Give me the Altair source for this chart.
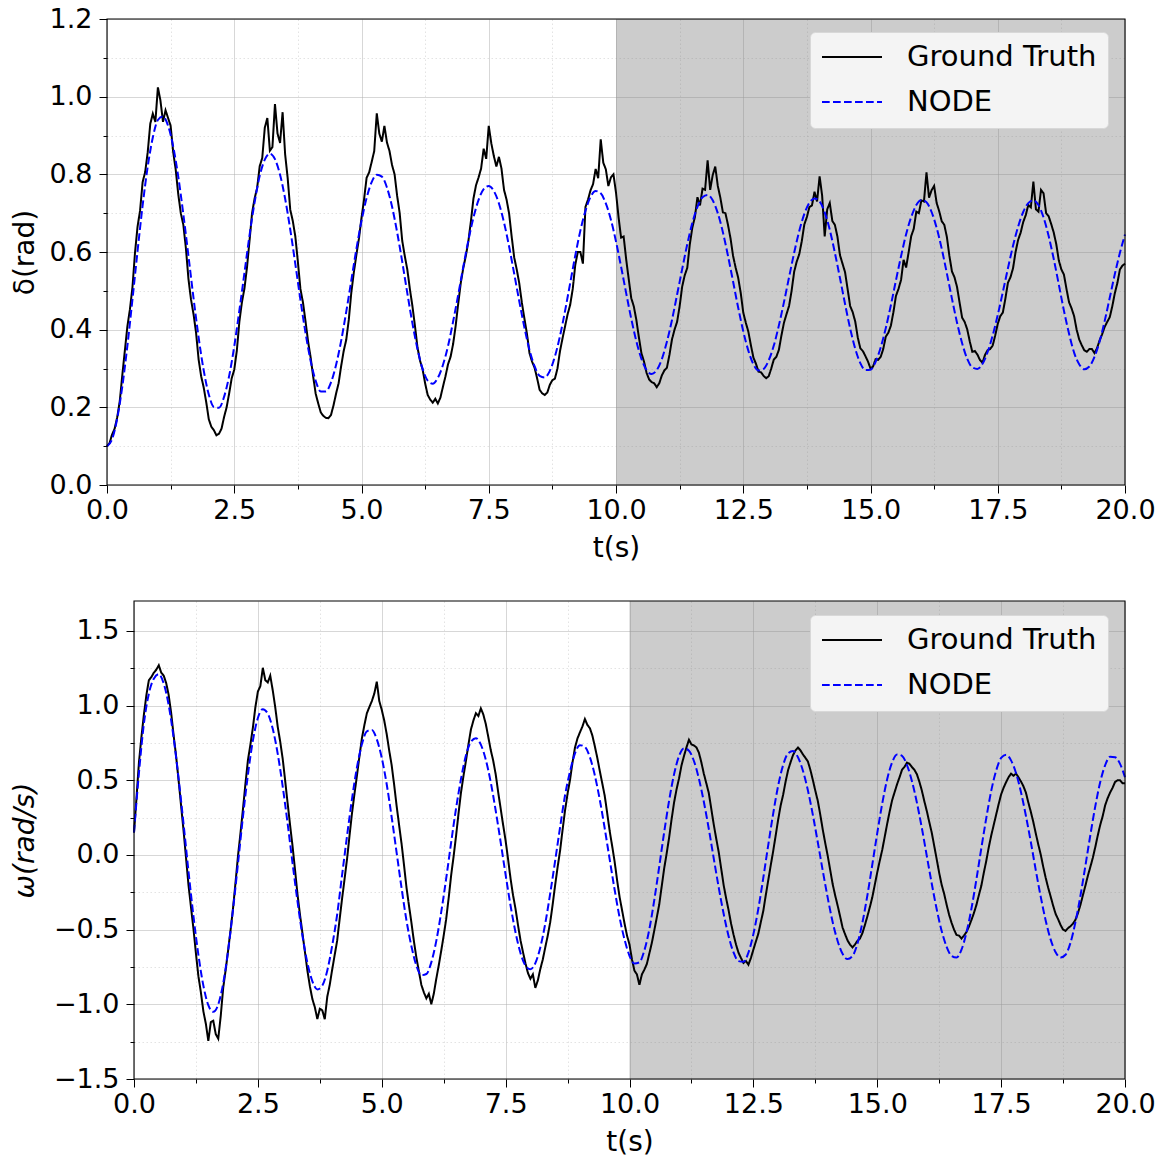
import altair as alt
import pandas as pd

# sample times (s)
t = [i / 10 for i in range(201)]
t_mid = [i / 10 + 0.05 for i in range(200)]

series_names = ["Ground Truth", "NODE"]

# ---- top panel: rotor angle delta (rad) ----
delta_gt = [
    0.100, 0.130, 0.174, 0.282, 0.408, 0.509, 0.665, 0.780, 0.857, 0.956,
    1.024, 0.935, 0.945, 0.858, 0.749, 0.670, 0.531, 0.440, 0.323, 0.251,
    0.169, 0.141, 0.132, 0.175, 0.236, 0.297, 0.420, 0.506, 0.629, 0.738,
    0.821, 0.920, 0.861, 0.981, 0.881, 0.851, 0.709, 0.640, 0.505, 0.422,
    0.329, 0.235, 0.187, 0.173, 0.180, 0.235, 0.306, 0.374, 0.496, 0.593,
    0.688, 0.791, 0.832, 0.957, 0.884, 0.882, 0.824, 0.745, 0.629, 0.555,
    0.461, 0.354, 0.298, 0.232, 0.212, 0.210, 0.253, 0.311, 0.363, 0.467,
    0.559, 0.628, 0.738, 0.792, 0.866, 0.925, 0.847, 0.845, 0.760, 0.699,
    0.586, 0.519, 0.429, 0.340, 0.302, 0.245, 0.232, 0.258, 0.274, 0.345,
    0.409, 0.464, 0.567, 0.600, 0.716, 0.759, 0.814, 0.890, 0.813, 0.792,
    0.753, 0.637, 0.581, 0.481, 0.425, 0.339, 0.289, 0.265, 0.252, 0.282,
    0.302, 0.375, 0.420, 0.511, 0.559, 0.663, 0.741, 0.763, 0.836, 0.798,
    0.770, 0.702, 0.670, 0.590, 0.534, 0.444, 0.395, 0.328, 0.292, 0.281,
    0.280, 0.323, 0.348, 0.418, 0.461, 0.549, 0.594, 0.671, 0.716, 0.755,
    0.795, 0.640, 0.726, 0.670, 0.592, 0.548, 0.461, 0.421, 0.352, 0.332,
    0.300, 0.324, 0.330, 0.382, 0.410, 0.487, 0.528, 0.560, 0.641, 0.704,
    0.733, 0.805, 0.759, 0.726, 0.679, 0.639, 0.550, 0.510, 0.431, 0.401,
    0.343, 0.336, 0.315, 0.347, 0.359, 0.415, 0.444, 0.521, 0.558, 0.631,
    0.677, 0.721, 0.781, 0.704, 0.751, 0.692, 0.650, 0.578, 0.542, 0.471,
    0.435, 0.375, 0.347, 0.350, 0.340, 0.372, 0.407, 0.432, 0.494, 0.555,
    0.570,
]
delta_gt_mid = [
    0.108, 0.145, 0.215, 0.345, 0.452, 0.598, 0.707, 0.806, 0.930, 0.935,
    0.990, 0.965, 0.925, 0.812, 0.700, 0.610, 0.478, 0.392, 0.280, 0.213,
    0.150, 0.128, 0.145, 0.200, 0.275, 0.345, 0.470, 0.560, 0.700, 0.765,
    0.842, 0.945, 0.870, 0.905, 0.960, 0.790, 0.680, 0.575, 0.470, 0.370,
    0.280, 0.210, 0.178, 0.172, 0.205, 0.262, 0.345, 0.425, 0.548, 0.635,
    0.735, 0.805, 0.860, 0.905, 0.925, 0.860, 0.800, 0.700, 0.590, 0.505,
    0.410, 0.320, 0.262, 0.220, 0.222, 0.225, 0.280, 0.330, 0.410, 0.520,
    0.590, 0.680, 0.772, 0.815, 0.840, 0.880, 0.820, 0.815, 0.735, 0.640,
    0.555, 0.470, 0.390, 0.318, 0.275, 0.236, 0.238, 0.270, 0.300, 0.378,
    0.440, 0.505, 0.600, 0.570, 0.735, 0.775, 0.790, 0.830, 0.770, 0.800,
    0.690, 0.640, 0.530, 0.460, 0.380, 0.318, 0.272, 0.262, 0.262, 0.295,
    0.335, 0.400, 0.460, 0.540, 0.620, 0.690, 0.720, 0.760, 0.760, 0.820,
    0.740, 0.700, 0.635, 0.560, 0.495, 0.418, 0.360, 0.312, 0.290, 0.275,
    0.300, 0.330, 0.385, 0.440, 0.500, 0.575, 0.628, 0.690, 0.720, 0.730,
    0.745, 0.710, 0.680, 0.640, 0.570, 0.505, 0.445, 0.380, 0.345, 0.318,
    0.305, 0.322, 0.350, 0.392, 0.445, 0.505, 0.580, 0.600, 0.660, 0.700,
    0.730, 0.740, 0.770, 0.705, 0.670, 0.590, 0.535, 0.470, 0.420, 0.370,
    0.345, 0.322, 0.335, 0.350, 0.385, 0.435, 0.480, 0.535, 0.600, 0.650,
    0.695, 0.715, 0.710, 0.760, 0.700, 0.672, 0.620, 0.555, 0.505, 0.455,
    0.400, 0.360, 0.343, 0.350, 0.352, 0.388, 0.420, 0.460, 0.520, 0.565,
]
delta_node = [
    0.100, 0.118, 0.171, 0.253, 0.358, 0.478, 0.602, 0.720, 0.820, 0.895,
    0.940, 0.949, 0.925, 0.872, 0.794, 0.697, 0.590, 0.481, 0.380, 0.295,
    0.233, 0.201, 0.199, 0.227, 0.281, 0.357, 0.449, 0.546, 0.643, 0.728,
    0.796, 0.838, 0.853, 0.839, 0.799, 0.737, 0.658, 0.569, 0.477, 0.392,
    0.320, 0.268, 0.241, 0.241, 0.264, 0.309, 0.371, 0.446, 0.527, 0.608,
    0.680, 0.739, 0.780, 0.799, 0.794, 0.766, 0.717, 0.651, 0.575, 0.494,
    0.417, 0.350, 0.299, 0.269, 0.261, 0.276, 0.309, 0.358, 0.421, 0.490,
    0.562, 0.630, 0.689, 0.734, 0.762, 0.770, 0.757, 0.725, 0.676, 0.614,
    0.544, 0.473, 0.406, 0.348, 0.306, 0.281, 0.277, 0.294, 0.331, 0.384,
    0.449, 0.520, 0.591, 0.655, 0.706, 0.742, 0.757, 0.751, 0.725, 0.683,
    0.627, 0.562, 0.494, 0.428, 0.370, 0.325, 0.296, 0.286, 0.296, 0.324,
    0.369, 0.425, 0.490, 0.556, 0.620, 0.675, 0.716, 0.741, 0.747, 0.733,
    0.700, 0.651, 0.590, 0.524, 0.457, 0.396, 0.346, 0.311, 0.295, 0.299,
    0.321, 0.359, 0.411, 0.471, 0.535, 0.598, 0.654, 0.698, 0.727, 0.738,
    0.730, 0.702, 0.657, 0.598, 0.533, 0.466, 0.403, 0.351, 0.314, 0.296,
    0.297, 0.317, 0.354, 0.404, 0.463, 0.527, 0.589, 0.646, 0.690, 0.721,
    0.734, 0.728, 0.703, 0.662, 0.608, 0.545, 0.480, 0.418, 0.365, 0.325,
    0.303, 0.299, 0.312, 0.342, 0.385, 0.438, 0.497, 0.558, 0.616, 0.665,
    0.703, 0.726, 0.733, 0.721, 0.689, 0.641, 0.582, 0.516, 0.449, 0.390,
    0.341, 0.311, 0.298, 0.305, 0.330, 0.369, 0.422, 0.482, 0.543, 0.598,
    0.645,
]

# ---- bottom panel: speed deviation omega (rad/s) ----
omega_gt = [
    0.150, 0.620, 0.940, 1.170, 1.220, 1.270, 1.200, 1.070, 0.800, 0.500,
    0.164, -0.202, -0.494, -0.812, -1.047, -1.245, -1.110, -1.230, -0.890, -0.637,
    -0.353, -0.003, 0.309, 0.636, 0.854, 1.094, 1.253, 1.155, 1.102, 0.859,
    0.646, 0.347, 0.058, -0.265, -0.525, -0.775, -0.965, -1.099, -1.040, -0.950,
    -0.767, -0.574, -0.291, -0.026, 0.281, 0.533, 0.782, 0.949, 1.030, 1.160,
    0.972, 0.809, 0.601, 0.329, 0.075, -0.220, -0.456, -0.689, -0.871, -0.960,
    -0.999, -0.830, -0.642, -0.430, -0.138, 0.128, 0.420, 0.632, 0.840, 0.949,
    0.981, 0.876, 0.702, 0.539, 0.310, 0.095, -0.160, -0.361, -0.571, -0.725,
    -0.829, -0.890, -0.764, -0.619, -0.450, -0.200, 0.031, 0.300, 0.503, 0.719,
    0.821, 0.910, 0.849, 0.728, 0.563, 0.396, 0.160, -0.045, -0.282, -0.459,
    -0.600, -0.775, -0.870, -0.768, -0.660, -0.506, -0.332, -0.090, 0.117, 0.352,
    0.513, 0.663, 0.771, 0.733, 0.685, 0.544, 0.415, 0.204, 0.020, -0.202,
    -0.370, -0.534, -0.655, -0.723, -0.735, -0.634, -0.527, -0.375, -0.170, 0.026,
    0.236, 0.402, 0.567, 0.668, 0.719, 0.673, 0.626, 0.502, 0.362, 0.170,
    -0.005, -0.195, -0.338, -0.486, -0.572, -0.619, -0.575, -0.524, -0.412, -0.284,
    -0.117, 0.033, 0.208, 0.366, 0.473, 0.570, 0.618, 0.588, 0.540, 0.431,
    0.294, 0.149, -0.029, -0.200, -0.333, -0.454, -0.536, -0.560, -0.516, -0.436,
    -0.336, -0.207, -0.040, 0.130, 0.270, 0.405, 0.487, 0.544, 0.545, 0.492,
    0.417, 0.288, 0.143, 0.002, -0.154, -0.279, -0.395, -0.469, -0.509, -0.477,
    -0.434, -0.335, -0.207, -0.081, 0.052, 0.201, 0.333, 0.418, 0.489, 0.500,
    0.480,
]
omega_gt_mid = [
    0.38, 0.79, 1.07, 1.19, 1.24, 1.22, 1.15, 0.95, 0.66, 0.33,
    -0.02, -0.35, -0.66, -0.92, -1.13, -1.12, -1.20, -1.08, -0.77, -0.50,
    -0.18, 0.15, 0.48, 0.74, 0.99, 1.13, 1.17, 1.20, 0.99, 0.76,
    0.50, 0.20, -0.10, -0.40, -0.65, -0.88, -1.02, -1.03, -1.10, -0.87,
    -0.67, -0.43, -0.16, 0.13, 0.41, 0.66, 0.87, 0.99, 1.08, 1.03,
    0.90, 0.70, 0.47, 0.20, -0.07, -0.34, -0.58, -0.78, -0.92, -0.93,
    -0.93, -0.74, -0.54, -0.29, -0.01, 0.28, 0.53, 0.74, 0.90, 0.93,
    0.94, 0.79, 0.63, 0.42, 0.20, -0.03, -0.27, -0.47, -0.65, -0.79,
    -0.80, -0.84, -0.70, -0.54, -0.33, -0.08, 0.17, 0.41, 0.62, 0.78,
    0.86, 0.87, 0.80, 0.65, 0.48, 0.28, 0.06, -0.17, -0.37, -0.54,
    -0.70, -0.80, -0.80, -0.73, -0.59, -0.42, -0.21, 0.01, 0.24, 0.44,
    0.60, 0.72, 0.74, 0.72, 0.62, 0.48, 0.31, 0.11, -0.09, -0.29,
    -0.46, -0.60, -0.69, -0.71, -0.69, -0.58, -0.45, -0.27, -0.07, 0.13,
    0.33, 0.49, 0.62, 0.70, 0.70, 0.65, 0.57, 0.43, 0.27, 0.08,
    -0.10, -0.27, -0.41, -0.53, -0.60, -0.60, -0.56, -0.47, -0.35, -0.20,
    -0.04, 0.12, 0.29, 0.42, 0.52, 0.59, 0.61, 0.57, 0.49, 0.36,
    0.22, 0.06, -0.12, -0.26, -0.40, -0.50, -0.54, -0.54, -0.48, -0.39,
    -0.27, -0.12, 0.05, 0.20, 0.34, 0.45, 0.52, 0.53, 0.52, 0.46,
    0.35, 0.22, 0.07, -0.08, -0.22, -0.34, -0.43, -0.50, -0.49, -0.46,
    -0.39, -0.27, -0.14, -0.02, 0.13, 0.26, 0.38, 0.45, 0.50, 0.48,
]
omega_node = [
    0.150, 0.550, 0.880, 1.080, 1.180, 1.210, 1.147, 1.003, 0.784, 0.512,
    0.208, -0.111, -0.410, -0.670, -0.875, -1.006, -1.050, -1.001, -0.860, -0.640,
    -0.361, -0.053, 0.259, 0.540, 0.767, 0.917, 0.976, 0.946, 0.844, 0.678,
    0.461, 0.211, -0.056, -0.311, -0.541, -0.724, -0.846, -0.900, -0.875, -0.775,
    -0.607, -0.399, -0.133, 0.128, 0.376, 0.587, 0.742, 0.828, 0.837, 0.774,
    0.650, 0.473, 0.254, 0.016, -0.222, -0.441, -0.613, -0.742, -0.805, -0.797,
    -0.719, -0.577, -0.383, -0.159, 0.082, 0.312, 0.510, 0.667, 0.758, 0.782,
    0.738, 0.637, 0.486, 0.296, 0.085, -0.133, -0.340, -0.519, -0.657, -0.740,
    -0.765, -0.724, -0.619, -0.459, -0.257, -0.038, 0.187, 0.401, 0.559, 0.680,
    0.735, 0.723, 0.655, 0.533, 0.370, 0.177, -0.030, -0.233, -0.419, -0.566,
    -0.675, -0.727, -0.719, -0.639, -0.498, -0.302, -0.078, 0.152, 0.365, 0.541,
    0.662, 0.714, 0.698, 0.629, 0.511, 0.356, 0.175, -0.023, -0.217, -0.394,
    -0.544, -0.653, -0.711, -0.715, -0.654, -0.530, -0.360, -0.154, 0.066, 0.277,
    0.463, 0.601, 0.680, 0.696, 0.654, 0.564, 0.433, 0.268, 0.085, -0.105,
    -0.286, -0.449, -0.576, -0.662, -0.697, -0.677, -0.594, -0.454, -0.272, -0.065,
    0.146, 0.343, 0.506, 0.619, 0.673, 0.663, 0.602, 0.494, 0.350, 0.180,
    -0.007, -0.192, -0.364, -0.509, -0.615, -0.676, -0.687, -0.634, -0.520, -0.361,
    -0.166, 0.044, 0.246, 0.429, 0.565, 0.649, 0.670, 0.633, 0.549, 0.421,
    0.262, 0.085, -0.103, -0.281, -0.440, -0.567, -0.651, -0.687, -0.668, -0.588,
    -0.450, -0.275, -0.074, 0.132, 0.325, 0.488, 0.601, 0.658, 0.654, 0.610,
    0.520,
]

x_domain = [0, 20]
shade = [10, 20]
x_major = [0, 2.5, 5, 7.5, 10, 12.5, 15, 17.5, 20]
x_minor = [1.25, 3.75, 6.25, 8.75, 11.25, 13.75, 16.25, 18.75]
delta_major = [0.0, 0.2, 0.4, 0.6, 0.8, 1.0, 1.2]
delta_minor = [0.1, 0.3, 0.5, 0.7, 0.9, 1.1]
omega_major = [-1.5, -1.0, -0.5, 0.0, 0.5, 1.0, 1.5]
omega_minor = [-1.25, -0.75, -0.25, 0.25, 0.75, 1.25]

FONT = "DejaVu Sans"
FS = 27
TFS = 28
W = 991  # shared group width; the top panel's x range extends further left


def panel(gt, gt_mid, node, ytitle, ydomain, ymajor, yminor, h, xoff, lx, ly,
          italic, ytitle_pad):
    df_gt = pd.DataFrame({"t": t + t_mid, "v": gt + gt_mid})
    df_gt = df_gt.sort_values("t").reset_index(drop=True)
    df_gt["series"] = series_names[0]
    df_node = pd.DataFrame({"t": t, "v": node, "series": series_names[1]})
    df_shade = pd.DataFrame({"x0": [shade[0]], "x1": [shade[1]]})
    df_frame = pd.DataFrame({"x0": [x_domain[0]], "x1": [x_domain[1]]})

    xscale = alt.Scale(domain=x_domain, range=[-xoff, W], nice=False, zero=False)
    yscale = alt.Scale(domain=ydomain, nice=False, zero=False)

    legend = alt.Legend(
        title=None, orient="none", legendX=lx, legendY=ly,
        symbolType="stroke", symbolSize=3600, symbolStrokeWidth=2,
        labelFontSize=29, labelFont=FONT, labelColor="black", labelLimit=400,
        labelOffset=24, padding=11, rowPadding=16, clipHeight=28,
        fillColor="#f4f4f4", strokeColor="#d8d8d8", cornerRadius=5,
    )
    color = alt.Color("series:N", scale=alt.Scale(domain=series_names, range=["black", "blue"]),
                      legend=legend)
    dash = alt.StrokeDash("series:N", scale=alt.Scale(domain=series_names, range=[[1, 0], [7.7, 3.3]]),
                          legend=legend)

    common_axis = dict(
        labelFont=FONT, titleFont=FONT, labelFontSize=FS, titleFontSize=TFS,
        labelColor="black", titleColor="black", titleFontWeight="normal",
        tickColor="black", tickWidth=1, domain=False,
        labelFlush=False, labelOverlap=False, labelBound=False,
    )
    x_axis_major = alt.Axis(values=x_major, format=".1f", title="t(s)", orient="bottom",
                            grid=True, gridColor="#b0b0b0", gridOpacity=0.5, gridWidth=1,
                            tickSize=8, labelPadding=4, titlePadding=11,
                            titleX=(W - xoff) / 2, titleAlign="center", **common_axis)
    x_axis_minor = alt.Axis(values=x_minor, labels=False, title=None, orient="bottom",
                            grid=True, gridColor="#b0b0b0", gridOpacity=0.35, gridWidth=1,
                            gridDash=[1.5, 2.5], tickSize=4, **common_axis)
    y_axis_major = alt.Axis(values=ymajor, format=".1f", title=ytitle, orient="left",
                            offset=xoff,
                            grid=True, gridColor="#b0b0b0", gridOpacity=0.5, gridWidth=1,
                            tickSize=8, labelPadding=7, titlePadding=ytitle_pad,
                            titleFontStyle="italic" if italic else "normal", **common_axis)
    y_axis_minor = alt.Axis(values=yminor, labels=False, title=None, orient="left",
                            offset=xoff,
                            grid=True, gridColor="#b0b0b0", gridOpacity=0.35, gridWidth=1,
                            gridDash=[1.5, 2.5], tickSize=4, **common_axis)

    shade_layer = alt.Chart(df_shade).mark_rect(color="gray", opacity=0.4).encode(
        x=alt.X("x0:Q", scale=xscale, axis=None),
        x2="x1:Q",
        y=alt.value(0),
        y2=alt.value(h),
    )
    gt_layer = alt.Chart(df_gt).mark_line(strokeWidth=2, clip=False).encode(
        x=alt.X("t:Q", scale=xscale, axis=x_axis_major),
        y=alt.Y("v:Q", scale=yscale, axis=y_axis_major),
        color=color,
        strokeDash=dash,
    )
    node_layer = alt.Chart(df_node).mark_line(strokeWidth=2, interpolate="monotone", clip=False).encode(
        x=alt.X("t:Q", scale=xscale, axis=x_axis_minor),
        y=alt.Y("v:Q", scale=yscale, axis=y_axis_minor),
        color=color,
        strokeDash=dash,
    )
    frame_layer = alt.Chart(df_frame).mark_rect(filled=False, stroke="black", strokeWidth=1.1).encode(
        x=alt.X("x0:Q", scale=xscale, axis=None),
        x2="x1:Q",
        y=alt.value(0),
        y2=alt.value(h),
    )
    return alt.layer(shade_layer, gt_layer, node_layer, frame_layer).resolve_axis(
        x="independent", y="independent"
    ).properties(width=W, height=h)


top = panel(delta_gt, delta_gt_mid, delta_node, "δ(rad)", [0, 1.2], delta_major, delta_minor,
            466, 27, 676, 13, False, 10)
bottom = panel(omega_gt, omega_gt_mid, omega_node, "ω(rad/s)", [-1.5, 1.7], omega_major, omega_minor,
               478, 0, 676, 14, True, 14)

chart = alt.vconcat(top, bottom, spacing=38).resolve_scale(
    color="independent", strokeDash="independent"
).resolve_legend(
    color="independent", strokeDash="independent"
).properties(
    padding={"left": 11, "top": 5, "right": 5, "bottom": 0},
    background="white",
).configure(font=FONT).configure_view(stroke=None)

chart.save("out.html", embed_options={"renderer": "svg", "actions": False})
